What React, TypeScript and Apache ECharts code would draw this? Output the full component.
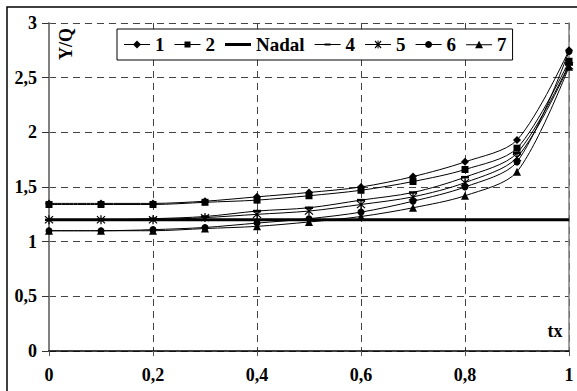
import React, { useEffect, useRef } from "react";
import * as echarts from "echarts";

const tx = [0, 0.1, 0.2, 0.3, 0.4, 0.5, 0.6, 0.7, 0.8, 0.9, 1];
const s1 = [1.35, 1.35, 1.35, 1.37, 1.41, 1.45, 1.5, 1.595, 1.73, 1.93, 2.75];
const s2 = [1.34, 1.34, 1.34, 1.36, 1.38, 1.42, 1.47, 1.55, 1.66, 1.855, 2.65];
const nadal = [1.2, 1.2, 1.2, 1.2, 1.2, 1.2, 1.2, 1.2, 1.2, 1.2, 1.2];
const s4 = [1.2, 1.2, 1.21, 1.23, 1.28, 1.31, 1.38, 1.45, 1.59, 1.81, 2.62];
const s5 = [1.2, 1.2, 1.2, 1.22, 1.25, 1.28, 1.34, 1.41, 1.54, 1.77, 2.61];
const s6 = [1.1, 1.1, 1.11, 1.13, 1.17, 1.21, 1.27, 1.37, 1.5, 1.73, 2.74];
const s7 = [1.1, 1.1, 1.1, 1.12, 1.14, 1.18, 1.23, 1.31, 1.42, 1.64, 2.6];
const names = ["1", "2", "Nadal", "4", "5", "6", "7"];

const FONT = "'Liberation Serif', 'Times New Roman', 'DejaVu Serif', serif";
const STAR =
  "path://M-0.6,-5 L0.6,-5 L0.6,5 L-0.6,5 Z M-4.4,-3.6 L-3.6,-4.4 L4.4,3.6 L3.6,4.4 Z M3.6,-4.4 L4.4,-3.6 L-3.6,4.4 L-4.4,3.6 Z";

const BAR = "M0,4 L26,4 L26,5 L0,5 Z";
const legendIcons: Record<string, string> = {
  "1": "path://" + BAR + " M13,0.5 L17,4.5 L13,8.5 L9,4.5 Z",
  "2": "path://" + BAR + " M10,1.5 L16,1.5 L16,7.5 L10,7.5 Z",
  Nadal: "path://M0,3 L26,3 L26,6 L0,6 Z",
  "4": "path://M0,4 L26,4 L26,5 L0,5 Z M10,3.5 L16,3.5 L16,5.5 L10,5.5 Z",
  "5":
    "path://" +
    BAR +
    " M12.5,0.5 L13.5,0.5 L13.5,8.5 L12.5,8.5 Z M9.6,1.4 L10.4,0.6 L16.4,7.6 L15.6,8.4 Z M15.6,0.6 L16.4,1.4 L10.4,8.4 L9.6,7.6 Z",
  "6": "path://" + BAR + " M13,1 A3.5,3.5 0 1 1 12.99,1 Z",
  "7": "path://" + BAR + " M13,0.5 L17,8 L9,8 Z",
};

export default function App() {
  const ref = useRef<HTMLDivElement>(null);
  useEffect(() => {
    if (!ref.current) return;
    const chart = echarts.init(ref.current, undefined, { renderer: "svg" });
    const pairs = (arr: number[]) => arr.map((v, i) => [tx[i], v]);
    const mk = (name: string, data: number[], symbol: string, size: any, width = 1) => ({
      name,
      type: "line",
      data: pairs(data),
      smooth: 0.3,
      symbol,
      symbolSize: size,
      showSymbol: symbol !== "none",
      lineStyle: { color: "#000", width },
      itemStyle: { color: "#000" },
      z: width > 1 ? 3 : 4,
    });
    const fmt = (v: number) => String(v).replace(".", ",");
    chart.setOption({
      animation: false,
      grid: { left: 49, right: 8, top: 23, bottom: 40 },
      legend: {
        data: names.map((n) => ({ name: n, icon: legendIcons[n] })),
        left: 117,
        top: 29,
        width: 400,
        padding: [6, 6, 6, 7],
        itemGap: 10,
        itemWidth: 26,
        itemHeight: 9,
        symbolKeepAspect: true,
        borderColor: "#000",
        borderWidth: 1,
        backgroundColor: "#fff",
        textStyle: { fontFamily: FONT, fontWeight: "bold", fontSize: 19, color: "#000" },
      },
      xAxis: {
        type: "value",
        min: 0,
        max: 1,
        interval: 0.2,
        axisLine: { lineStyle: { color: "#000", width: 1.5 } },
        axisTick: { length: 5, lineStyle: { color: "#555" } },
        axisLabel: {
          margin: 15,
          fontFamily: FONT,
          fontWeight: "bold",
          fontSize: 18,
          color: "#000",
          formatter: fmt,
        },
        splitLine: { show: true, lineStyle: { color: "#444", type: [7, 5], width: 1 } },
      },
      yAxis: [
        {
          type: "value",
          min: 0,
          max: 3,
          interval: 0.5,
          axisLine: { show: true, lineStyle: { color: "#808080", width: 2 } },
          axisTick: { show: true, length: 7, lineStyle: { color: "#333" } },
          axisLabel: {
            margin: 12,
            fontFamily: FONT,
            fontWeight: "bold",
            fontSize: 18,
            color: "#000",
            formatter: fmt,
          },
          splitLine: { show: true, lineStyle: { color: "#444", type: [7, 5], width: 1 } },
        },
        {
          type: "value",
          min: 0,
          max: 3,
          interval: 0.5,
          position: "right",
          axisLine: { show: true, lineStyle: { color: "#808080", width: 1.5 } },
          axisTick: { show: false },
          axisLabel: { show: false },
          splitLine: { show: false },
        },
      ],
      series: [
        mk("1", s1, "diamond", 8),
        mk("2", s2, "rect", 7),
        mk("Nadal", nadal, "none", 0, 3),
        mk("4", s4, "rect", [8, 2.5]),
        mk("5", s5, STAR, 9),
        mk("6", s6, "circle", 7),
        mk("7", s7, "triangle", 8),
      ],
      graphic: [
        {
          type: "rect",
          shape: { x: 7, y: 7, width: 600, height: 420 },
          style: { fill: "none", stroke: "#000", lineWidth: 1.5 },
          silent: true,
        },
        {
          type: "text",
          x: 66,
          y: 44,
          rotation: Math.PI / 2,
          style: {
            text: "Y/Q",
            fontFamily: FONT,
            fontWeight: "bold",
            fontSize: 18,
            fill: "#000",
            align: "center",
            verticalAlign: "middle",
          },
        },
        {
          type: "text",
          x: 555,
          y: 331,
          style: {
            text: "tx",
            fontFamily: FONT,
            fontWeight: "bold",
            fontSize: 18,
            fill: "#000",
            align: "center",
            verticalAlign: "middle",
          },
        },
      ],
    });
    return () => chart.dispose();
  }, []);
  return (
    <div
      ref={ref}
      style={{ position: "fixed", left: 0, top: 0, width: 577, height: 391, background: "#fff" }}
    />
  );
}
